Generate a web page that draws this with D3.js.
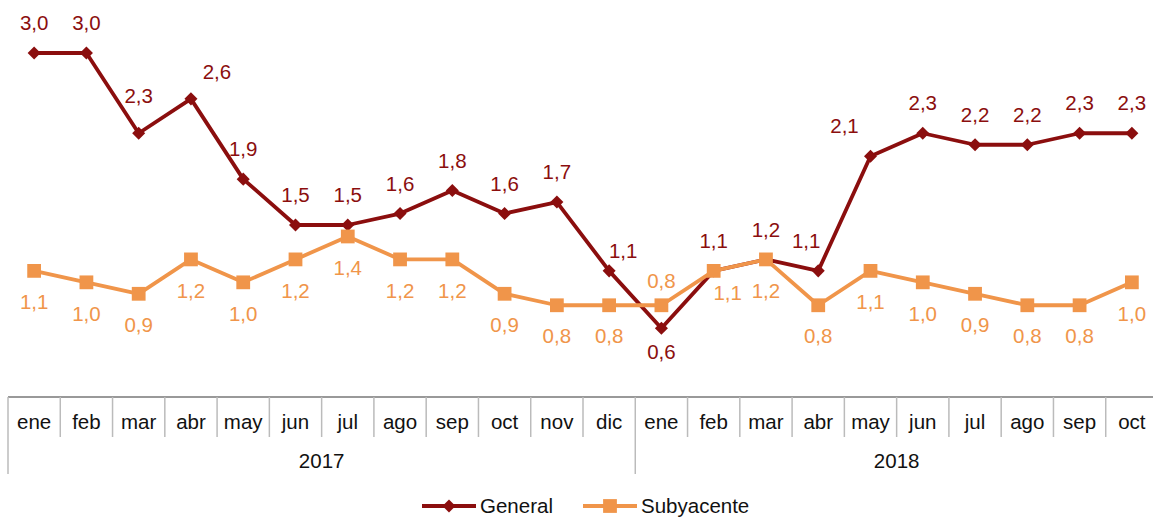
<!DOCTYPE html>
<html>
<head>
<meta charset="utf-8">
<script src="https://cdn.jsdelivr.net/npm/d3@7"></script>
<style>
    body { margin: 0; background: #fff; }
    svg { display: block; font-family: "Liberation Sans", Arial, sans-serif; }
</style>
</head>
<body>
<div id="chart"></div>
<script>
const months = ['ene', 'feb', 'mar', 'abr', 'may', 'jun', 'jul', 'ago', 'sep', 'oct', 'nov', 'dic',
    'ene', 'feb', 'mar', 'abr', 'may', 'jun', 'jul', 'ago', 'sep', 'oct'];
const years = ['2017', '2018'];
const monthsPerYear = [12, 10];

const general = [3.0, 3.0, 2.3, 2.6, 1.9, 1.5, 1.5, 1.6, 1.8, 1.6, 1.7, 1.1,
    0.6, 1.1, 1.2, 1.1, 2.1, 2.3, 2.2, 2.2, 2.3, 2.3];
const subyacente = [1.1, 1.0, 0.9, 1.2, 1.0, 1.2, 1.4, 1.2, 1.2, 0.9, 0.8, 0.8,
    0.8, 1.1, 1.2, 0.8, 1.1, 1.0, 0.9, 0.8, 0.8, 1.0];

// label placement per point (like excel's label position)
const generalLabelPos = ['a', 'a', 'at', 'ar', 'a', 'a', 'a', 'a', 'a', 'a', 'a', 'r',
    'bs', 'a', 'a', 'l', 'al', 'a', 'a', 'a', 'a', 'a'];
const subyacenteLabelPos = ['b', 'b', 'b', 'b', 'b', 'b', 'b', 'b', 'b', 'b', 'b', 'b',
    'as', 'br', 'b', 'b', 'b', 'b', 'b', 'b', 'b', 'b'];

const labelOffsets = {
    a: [0, -30], at: [0, -37], as: [0, -24], b: [0, 31], bs: [0, 24],
    ar: [26, -27], r: [14, -20], l: [-12, -30], al: [-26, -30], br: [14, 22]
};

const series = [
    {name: 'General', values: general, pos: generalLabelPos, color: '#8b0e0e', symbol: d3.symbolSquare, size: 85, rotate: 45},
    {name: 'Subyacente', values: subyacente, pos: subyacenteLabelPos, color: '#f0954a', symbol: d3.symbolSquare, size: 190, rotate: 0}
];

const width = 1153, height = 517;
const fontSize = 20.5;

const svg = d3.select('#chart').append('svg')
    .attr('width', width)
    .attr('height', height);

const xScale = d3.scaleBand()
    .domain(d3.range(months.length))
    .range([8, 1158])
    .paddingInner(0)
    .paddingOuter(0);

const yScale = d3.scaleLinear()
    .domain([0, 3])
    .range([397, 53]);

const xc = i => xScale(i) + xScale.bandwidth() / 2;

// category axis (two levels)
const axisTop = yScale(0);
const axisG = svg.append('g');

axisG.append('line')
    .attr('x1', xScale.range()[0]).attr('x2', xScale.range()[1])
    .attr('y1', axisTop).attr('y2', axisTop)
    .attr('stroke', '#999').attr('stroke-width', 2);

let yearStart = 0;
const yearBounds = [0];
monthsPerYear.forEach(n => { yearStart += n; yearBounds.push(yearStart); });

d3.range(months.length + 1).forEach(i => {
    const x = i < months.length ? xScale(i) : xScale.range()[1];
    const long = yearBounds.includes(i);
    axisG.append('line')
        .attr('x1', x).attr('x2', x)
        .attr('y1', axisTop).attr('y2', long ? 474 : 437)
        .attr('stroke', '#bbb').attr('stroke-width', 1.5);
});

axisG.selectAll('.month')
    .data(months)
    .join('text')
    .attr('class', 'month')
    .attr('x', (d, i) => xc(i))
    .attr('y', 429)
    .attr('text-anchor', 'middle')
    .style('font-size', fontSize + 'px')
    .attr('fill', '#111')
    .text(d => d);

axisG.selectAll('.year')
    .data(years)
    .join('text')
    .attr('class', 'year')
    .attr('x', (d, i) => {
        const a = xScale(yearBounds[i]);
        const b = yearBounds[i + 1] < months.length ? xScale(yearBounds[i + 1]) : xScale.range()[1];
        return (a + b) / 2;
    })
    .attr('y', 468)
    .attr('text-anchor', 'middle')
    .style('font-size', fontSize + 'px')
    .attr('fill', '#111')
    .text(d => d);

// lines
const line = d3.line()
    .x((d, i) => xc(i))
    .y(d => yScale(d));

const fmt = v => v.toFixed(1).replace('.', ',');

series.forEach(s => {
    const g = svg.append('g');
    g.append('path')
        .datum(s.values)
        .attr('d', line)
        .attr('fill', 'none')
        .attr('stroke', s.color)
        .attr('stroke-width', 3.8)
        .attr('stroke-linejoin', 'round');

    g.selectAll('.marker')
        .data(s.values)
        .join('path')
        .attr('class', 'marker')
        .attr('transform', (d, i) => `translate(${xc(i)},${yScale(d)}) rotate(${s.rotate})`)
        .attr('d', d3.symbol().type(s.symbol).size(s.size))
        .attr('fill', s.color);
});

series.forEach(s => {
    svg.append('g').selectAll('.label')
        .data(s.values)
        .join('text')
        .attr('class', 'label')
        .attr('x', (d, i) => xc(i) + labelOffsets[s.pos[i]][0])
        .attr('y', (d, i) => yScale(d) + labelOffsets[s.pos[i]][1])
        .attr('dy', '0.35em')
        .attr('text-anchor', 'middle')
        .style('font-size', fontSize + 'px')
        .attr('fill', s.color)
        .text(d => fmt(d));
});

// legend
const legend = svg.append('g').attr('transform', 'translate(422,506)');
const legendX = [0, 161];
series.forEach((s, i) => {
    const lg = legend.append('g').attr('transform', `translate(${legendX[i]},0)`);
    lg.append('line')
        .attr('x1', 0).attr('x2', 54)
        .attr('y1', 0).attr('y2', 0)
        .attr('stroke', s.color).attr('stroke-width', 3.8);
    lg.append('path')
        .attr('transform', `translate(27,0) rotate(${s.rotate})`)
        .attr('d', d3.symbol().type(s.symbol).size(s.size))
        .attr('fill', s.color);
    lg.append('text')
        .attr('x', 58)
        .attr('y', 0)
        .attr('dy', '0.35em')
        .style('font-size', fontSize + 'px')
        .attr('fill', '#111')
        .text(s.name);
});
</script>
</body>
</html>
